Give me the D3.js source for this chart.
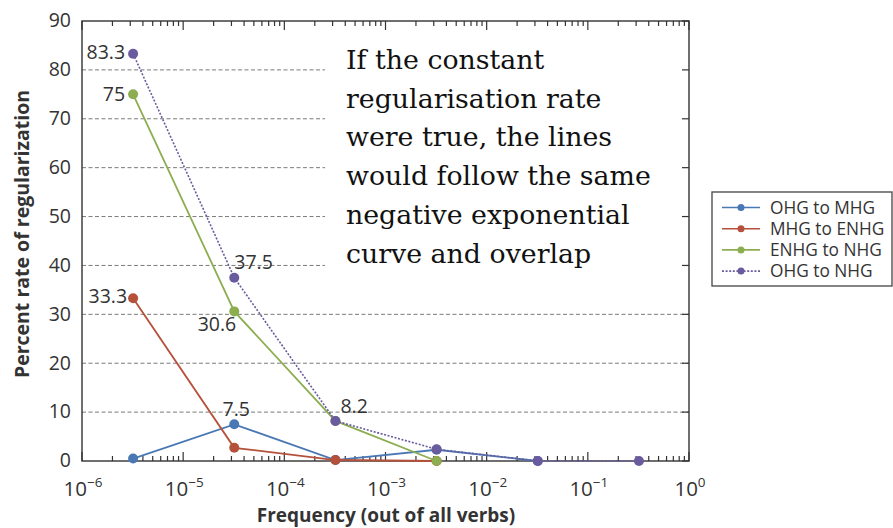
<!DOCTYPE html>
<html><head><meta charset="utf-8">
<script src="https://cdn.jsdelivr.net/npm/d3@7/dist/d3.min.js"></script>
<style>body{margin:0;background:#fff}svg{display:block}</style>
</head><body>
<svg id="c" width="893" height="528"></svg>
<script>
// ---- data ----
const frequencies = [3.2e-6, 3.2e-5, 3.2e-4, 3.2e-3, 3.2e-2, 3.2e-1];
const seriesNames = ["OHG to MHG", "MHG to ENHG", "ENHG to NHG", "OHG to NHG"];
const ohgToMhg   = [0.5, 7.5, 0.2, 2.3, 0];
const mhgToEnhg  = [33.3, 2.7, 0.2, 0];
const enhgToNhg  = [75, 30.6, 8.2, 0];
const ohgToNhg   = [83.3, 37.5, 8.2, 2.4, 0, 0];
const yTicks = [0, 10, 20, 30, 40, 50, 60, 70, 80, 90];
const xTickExps = [-6, -5, -4, -3, -2, -1, 0];
// labelled points: [series index, point index]
const labelled = [[3,0],[2,0],[1,0],[3,1],[2,1],[0,1],[3,2]];
const annotation = ["If the constant", "regularisation rate", "were true, the lines",
  "would follow the same", "negative exponential", "curve and overlap"];

const allSeries = [ohgToMhg, mhgToEnhg, enhgToNhg, ohgToNhg];
const colors = ["#4a78b4", "#b5503a", "#8cad50", "#6a5a9e"];
const dashes = [null, null, null, "2,1.6"];

const svg = d3.select("#c");
const L = 82, R = 689, T = 21, B = 461;
const x = d3.scaleLog().domain([1e-6, 1]).range([L, R]);
const y = d3.scaleLinear().domain([0, 90]).range([B, T]);
const font = "'Open Sans', 'Noto Sans', sans-serif";
const axisCol = "#333";

// grid lines (upper ones stop short of annotation)
yTicks.filter(v => v > 0 && v < 90).forEach(v => {
  svg.append("line").attr("x1", L).attr("x2", v >= 40 ? 325 : R)
    .attr("y1", y(v)).attr("y2", y(v))
    .attr("stroke", "#7a7a7a").attr("stroke-width", 1).attr("stroke-dasharray", "4,2.5");
});

// frame
svg.append("rect").attr("x", L).attr("y", T).attr("width", R - L).attr("height", B - T)
  .attr("fill", "none").attr("stroke", axisCol).attr("stroke-width", 1.4);

// log ticks on bottom and top (inward)
const ticksAll = [];
for (let e = -6; e < 0; e++) for (let m = 1; m < 10; m++) ticksAll.push(m * Math.pow(10, e));
ticksAll.push(1);
ticksAll.forEach(t => {
  const major = Math.abs(Math.log10(t) - Math.round(Math.log10(t))) < 1e-9;
  const len = major ? 9 : 5;
  svg.append("line").attr("x1", x(t)).attr("x2", x(t)).attr("y1", B).attr("y2", B - len)
    .attr("stroke", axisCol).attr("stroke-width", 1.2);
  svg.append("line").attr("x1", x(t)).attr("x2", x(t)).attr("y1", T).attr("y2", T + len)
    .attr("stroke", axisCol).attr("stroke-width", 1.2);
});
// right ticks
yTicks.forEach(v => {
  svg.append("line").attr("x1", R).attr("x2", R - 7).attr("y1", y(v)).attr("y2", y(v))
    .attr("stroke", axisCol).attr("stroke-width", 1.2);
});

// y tick labels
yTicks.forEach(v => {
  svg.append("text").attr("x", 71).attr("y", y(v) + 6.3).attr("text-anchor", "end")
    .attr("font-family", font).attr("font-size", 19.5).attr("fill", axisCol).text(v);
});
// x tick labels: base "10" and exponent as separate texts
xTickExps.forEach(e => {
  const cx = x(Math.pow(10, e)) + 1;
  const base = svg.append("text").attr("y", 495.5).attr("font-family", font)
    .attr("font-size", 20.5).attr("fill", axisCol).text("10");
  const sup = svg.append("text").attr("y", 486.5).attr("font-family", font)
    .attr("font-size", 13.5).attr("fill", axisCol).text(e === 0 ? "0" : "\u2212" + (-e));
  const wb = base.node().getComputedTextLength(), ws = sup.node().getComputedTextLength();
  const x0 = cx - (wb + ws) / 2;
  base.attr("x", x0);
  sup.attr("x", x0 + wb);
});

// axis titles
svg.append("text").attr("x", 386).attr("y", 522).attr("text-anchor", "middle")
  .attr("font-family", font).attr("font-weight", "bold").attr("font-size", 19).attr("fill", axisCol)
  .text("Frequency (out of all verbs)");
svg.append("text").attr("transform", "translate(29,234) rotate(-90)").attr("text-anchor", "middle")
  .attr("font-family", font).attr("font-weight", "bold").attr("font-size", 19.5).attr("fill", axisCol)
  .text("Percent rate of regularization");

// series
const line = d3.line().x((d, i) => x(frequencies[i])).y(d => y(d));
allSeries.forEach((s, k) => {
  svg.append("path").datum(s).attr("d", line).attr("fill", "none")
    .attr("stroke", colors[k]).attr("stroke-width", k === 3 ? 1.6 : 1.8)
    .attr("stroke-dasharray", dashes[k]);
  svg.selectAll(null).data(s).enter().append("circle")
    .attr("cx", (d, i) => x(frequencies[i])).attr("cy", d => y(d)).attr("r", 5)
    .attr("fill", colors[k]);
});

// value labels
const labelPlace = {
  "3,0": [-8, 5, "end"], "2,0": [-8, 7, "end"], "1,0": [-6, 5, "end"],
  "3,1": [0, -9, "start"], "2,1": [2, 20, "end"], "0,1": [2, -8, "middle"],
  "3,2": [5, -8, "start"]
};
labelled.forEach(([k, i]) => {
  const p = labelPlace[k + "," + i];
  svg.append("text").attr("x", x(frequencies[i]) + p[0]).attr("y", y(allSeries[k][i]) + p[1])
    .attr("text-anchor", p[2]).attr("font-family", font).attr("font-size", 19.5).attr("fill", axisCol)
    .text(allSeries[k][i]);
});

// annotation
annotation.forEach((s, i) => {
  svg.append("text").attr("x", 346).attr("y", 69 + i * 38.7)
    .attr("font-family", "'DejaVu Serif', serif").attr("font-size", 26.8).attr("fill", "#111")
    .text(s);
});

// legend
svg.append("rect").attr("x", 712).attr("y", 192).attr("width", 180).attr("height", 94)
  .attr("fill", "#fff").attr("stroke", "#444").attr("stroke-width", 1.3);
seriesNames.forEach((n, k) => {
  const ly = 207.5 + k * 21.2;
  svg.append("line").attr("x1", 722).attr("x2", 760).attr("y1", ly).attr("y2", ly)
    .attr("stroke", colors[k]).attr("stroke-width", 1.6).attr("stroke-dasharray", dashes[k]);
  svg.append("circle").attr("cx", 741).attr("cy", ly).attr("r", 3.5).attr("fill", colors[k]);
  svg.append("text").attr("x", 770).attr("y", ly + 6).attr("font-family", font)
    .attr("font-size", 17.3).attr("fill", axisCol).text(n);
});
</script>
</body></html>
